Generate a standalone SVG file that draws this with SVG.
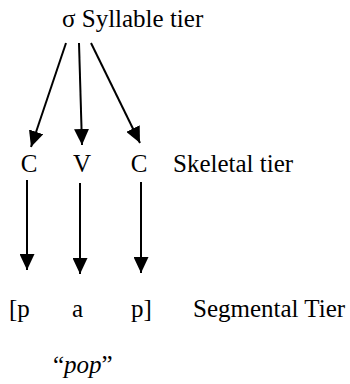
<svg xmlns="http://www.w3.org/2000/svg" width="350" height="384" viewBox="0 0 350 384">
<style>
text{font-family:"Liberation Serif","Times New Roman",serif;font-size:25px;fill:#000}
.c{text-anchor:middle}
line{stroke:#000;stroke-width:2}
</style>
<defs>
<marker id="ah" viewBox="0 0 16 15" refX="16" refY="7.5" markerWidth="8" markerHeight="7.5" orient="auto" markerUnits="strokeWidth">
<path d="M0,0 L16,7.5 L0,15 z" fill="#000"/>
</marker>
</defs>
<rect width="350" height="384" fill="#fff"/>
<g id="syllable"><text x="62" y="27">σ Syllable tier</text></g>
<g id="C1"><text class="c" x="29" y="172">C</text></g>
<g id="V"><text class="c" x="82" y="172">V</text></g>
<g id="C2"><text class="c" x="139" y="172">C</text></g>
<g id="skeletal"><text x="173" y="172">Skeletal tier</text></g>
<g id="p1"><text x="9" y="317">[p</text></g>
<g id="a"><text x="72" y="317">a</text></g>
<g id="p2"><text x="131" y="317">p]</text></g>
<g id="segmental"><text x="193" y="317">Segmental Tier</text></g>
<g id="gloss"><text x="53" y="373">“<tspan font-style="italic">pop</tspan>”</text></g>
<g id="connectors">
<line x1="66" y1="43" x2="31" y2="147" marker-end="url(#ah)"/>
<line x1="79" y1="43" x2="82" y2="145" marker-end="url(#ah)"/>
<line x1="91" y1="43" x2="140" y2="143" marker-end="url(#ah)"/>
<line x1="27" y1="180" x2="27" y2="270" marker-end="url(#ah)"/>
<line x1="80" y1="183" x2="80" y2="274" marker-end="url(#ah)"/>
<line x1="141" y1="182" x2="141" y2="273" marker-end="url(#ah)"/>
</g>
</svg>
